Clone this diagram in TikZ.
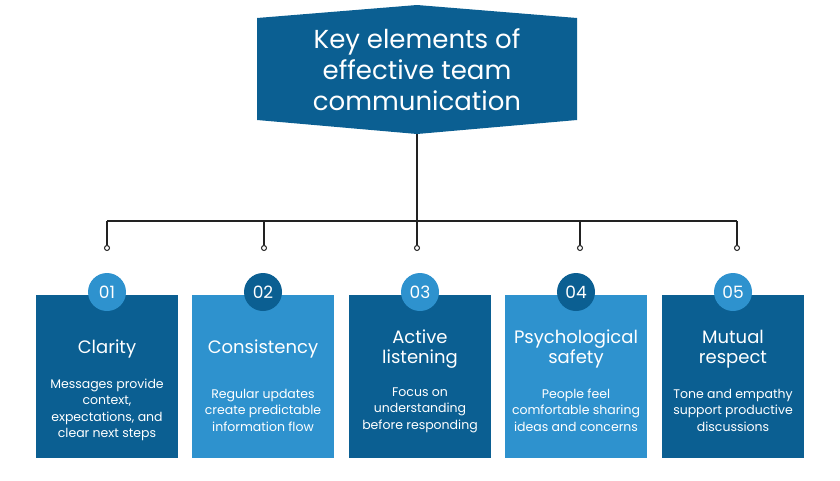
\documentclass[tikz,border=0pt]{standalone}
\usepackage{fontspec}
\setmainfont{Poppins}
\usetikzlibrary{positioning}
\definecolor{darkblue}{HTML}{0B5F92}
\definecolor{lightblue}{HTML}{2E92CE}
\definecolor{linegray}{HTML}{222222}
\tikzset{
  card/.style={fill=#1, minimum width=142pt, minimum height=163pt, anchor=north, inner sep=0pt},
  badge/.style={circle, fill=#1, minimum size=38pt, inner sep=0pt, text=white, font=\fontsize{17}{17}\selectfont},
  heading/.style={text=white, align=center, font=\fontsize{18}{20}\selectfont},
  body/.style={text=white, align=center, font=\fontsize{12.5}{16.5}\selectfont},
  conn/.style={draw=linegray, line width=1.3pt},
  pin/.style={circle, draw=linegray, fill=white, line width=1pt, minimum size=5pt, inner sep=0pt}
}
\begin{document}
\begin{tikzpicture}[x=1pt,y=-1pt]
\useasboundingbox (0,0) rectangle (840,480);
% title banner
\fill[darkblue] (257,18) -- (417,5) -- (577,18) -- (577,120) -- (417,134) -- (257,120) -- cycle;
\node[text=white, align=center, font=\fontsize{26}{31}\selectfont] (title) at (417,70) {Key elements of\\effective team\\communication};
\coordinate (top) at (417,134);
\coordinate (bar) at (417,221);
\draw[conn] (top) -- (bar);
\coordinate (barL) at (107,221);
\coordinate (barR) at (737,221);
\draw[conn] (barL) -- (barR);
% cards
\foreach \i/\x/\px/\col/\bcol/\head/\txt [count=\k] in {
  01/107/107/darkblue/lightblue/{Clarity}/{Messages provide\\context,\\expectations, and\\clear next steps},
  02/263/264/lightblue/darkblue/{Consistency}/{Regular updates\\create predictable\\information flow},
  03/420/417/darkblue/lightblue/{Active\\listening}/{Focus on\\understanding\\before responding},
  04/576/580/lightblue/darkblue/{Psychological\\safety}/{People feel\\comfortable sharing\\ideas and concerns},
  05/733/737/darkblue/lightblue/{Mutual\\respect}/{Tone and empathy\\support productive\\discussions}} {
  \coordinate (drop\k) at (\px,221);
  \node[pin] (pin\k) at (\px,248) {};
  \draw[conn] (drop\k) -- (pin\k);
  \node[card=\col] (card\k) at (\x,295) {};
  \node[badge=\bcol] (badge\k) at (\x,292) {\i};
  \node[heading, anchor=center] (head\k) at (\x,349) {\head};
  \node[body, anchor=center] (text\k) at (\x,410) {\txt};
}
\end{tikzpicture}
\end{document}
